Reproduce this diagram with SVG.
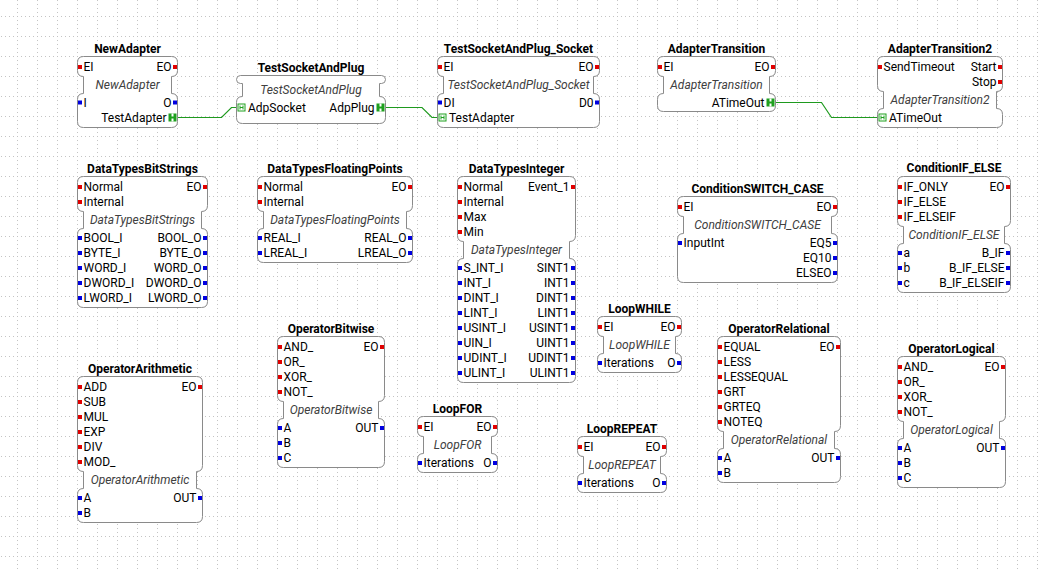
<svg xmlns="http://www.w3.org/2000/svg" xmlns:xlink="http://www.w3.org/1999/xlink" width="1041" height="569" viewBox="0 0 1041 569">
<style>
text{font-family:Roboto,"Liberation Sans",Arial,sans-serif;font-size:12px;fill:#000}
.t{font-weight:bold;text-anchor:middle;font-size:12px}
.n{font-style:italic;text-anchor:middle;fill:#404040}
.r{text-anchor:end}
.b{fill:#fff;stroke:#8a8a8a;stroke-width:1}
.e{fill:#e00000}
.d{fill:#0000e0}
.c{fill:none;stroke:#1e9a1e;stroke-width:1.2}
</style>
<defs>
<pattern id="grid" x="17" y="16" width="20" height="20" patternUnits="userSpaceOnUse">
<path d="M0 0.5H20" stroke="#c4c4c4" stroke-width="1" stroke-dasharray="1 3"/>
<path d="M0.5 0V20" stroke="#c4c4c4" stroke-width="1" stroke-dasharray="1 3"/>
</pattern>
<g id="plug"><rect x="0" y="0" width="8" height="8" fill="#1ea01e"/><rect x="3" y="0" width="2" height="3" fill="#fff"/><rect x="3" y="5" width="2" height="3" fill="#fff"/></g>
<g id="sock"><rect x="0.5" y="0.5" width="7" height="7" fill="#fff" stroke="#1ea01e"/><path d="M2.5 2V6M5.5 2V6M2.5 4H5.5" stroke="#1ea01e" stroke-width="1"/></g>
</defs>
<rect width="1041" height="569" fill="#fff"/>
<rect width="1041" height="569" fill="url(#grid)"/>

<g id="connections">
<path class="c" d="M177,117.5 H221.5 L231.5,107.5 H238"/>
<path class="c" d="M385,107.5 H422 L432,117.5 H439"/>
<path class="c" d="M775,102.5 H821.5 L831.5,117.5 H879"/>
</g>

<g id="NewAdapter">
<path class="b" d="M83.5,56.5 H171.5 Q177.5,56.5 177.5,62.5 V70.5 Q177.5,76.5 171.5,76.5 V93.5 Q177.5,93.5 177.5,99.5 V121.5 Q177.5,127.5 171.5,127.5 H83.5 Q77.5,127.5 77.5,121.5 V99.5 Q77.5,93.5 83.5,93.5 V76.5 Q77.5,76.5 77.5,70.5 V62.5 Q77.5,56.5 83.5,56.5 Z"/>
<text class="t" x="127.5" y="53">NewAdapter</text>
<rect class="e" x="78" y="65" width="4" height="4"/><text x="83.5" y="71">EI</text>
<rect class="e" x="173" y="65" width="4" height="4"/><text class="r" x="171.5" y="71">EO</text>
<text class="n" x="127.5" y="89">NewAdapter</text>
<rect class="d" x="78" y="100.5" width="4" height="4"/><text x="83.5" y="106.5">I</text>
<rect class="d" x="173" y="100.5" width="4" height="4"/><text class="r" x="171.5" y="106.5">O</text>
<use xlink:href="#plug" x="168.5" y="113.5"/><text class="r" x="166.5" y="121.5">TestAdapter</text>
</g>

<g id="TestSocketAndPlug">
<path class="b" d="M240.5,75.5 H381.5 Q385.5,75.5 385.5,79.5 Q385.5,83.5 381.5,83.5 H379.5 V96.5 Q385.5,96.5 385.5,102.5 V117.5 Q385.5,123.5 379.5,123.5 H242.5 Q236.5,123.5 236.5,117.5 V102.5 Q236.5,96.5 242.5,96.5 V83.5 H240.5 Q236.5,83.5 236.5,79.5 Q236.5,75.5 240.5,75.5 Z"/>
<text class="t" x="311" y="72">TestSocketAndPlug</text>
<text class="n" x="311" y="94">TestSocketAndPlug</text>
<use xlink:href="#sock" x="237.5" y="103.5"/><text x="248" y="111.5">AdpSocket</text>
<use xlink:href="#plug" x="376.5" y="103.5"/><text class="r" x="374.5" y="111.5">AdpPlug</text>
</g>

<g id="TestSocketAndPlug_Socket">
<path class="b" d="M443.5,56.5 H593.5 Q599.5,56.5 599.5,62.5 V70.5 Q599.5,76.5 593.5,76.5 V93.5 Q599.5,93.5 599.5,99.5 V121.5 Q599.5,127.5 593.5,127.5 H443.5 Q437.5,127.5 437.5,121.5 V99.5 Q437.5,93.5 443.5,93.5 V76.5 Q437.5,76.5 437.5,70.5 V62.5 Q437.5,56.5 443.5,56.5 Z"/>
<text class="t" x="518.5" y="53">TestSocketAndPlug_Socket</text>
<rect class="e" x="438" y="65" width="4" height="4"/><text x="443.5" y="71">EI</text>
<rect class="e" x="595" y="65" width="4" height="4"/><text class="r" x="593.5" y="71">EO</text>
<text class="n" x="518.5" y="89">TestSocketAndPlug_Socket</text>
<rect class="d" x="438" y="100.5" width="4" height="4"/><text x="443.5" y="106.5">DI</text>
<rect class="d" x="595" y="100.5" width="4" height="4"/><text class="r" x="593.5" y="106.5">D0</text>
<use xlink:href="#sock" x="438.5" y="113.5"/><text x="449" y="121.5">TestAdapter</text>
</g>

<g id="AdapterTransition">
<path class="b" d="M663.5,56.5 H769.5 Q775.5,56.5 775.5,62.5 V70.5 Q775.5,76.5 769.5,76.5 V93.5 Q775.5,93.5 775.5,99.5 V105.5 Q775.5,111.5 769.5,111.5 H663.5 Q657.5,111.5 657.5,105.5 V99.5 Q657.5,93.5 663.5,93.5 V76.5 Q657.5,76.5 657.5,70.5 V62.5 Q657.5,56.5 663.5,56.5 Z"/>
<text class="t" x="716.5" y="53">AdapterTransition</text>
<rect class="e" x="658" y="65" width="4" height="4"/><text x="663.5" y="71">EI</text>
<rect class="e" x="771" y="65" width="4" height="4"/><text class="r" x="769.5" y="71">EO</text>
<text class="n" x="716.5" y="89">AdapterTransition</text>
<use xlink:href="#plug" x="766.5" y="98.5"/><text class="r" x="764.5" y="106.5">ATimeOut</text>
</g>

<g id="AdapterTransition2">
<path class="b" d="M883.5,56.5 H996.5 Q1002.5,56.5 1002.5,62.5 V85.5 Q1002.5,91.5 996.5,91.5 V108.5 Q1002.5,108.5 1002.5,114.5 V121.5 Q1002.5,127.5 996.5,127.5 H883.5 Q877.5,127.5 877.5,121.5 V114.5 Q877.5,108.5 883.5,108.5 V91.5 Q877.5,91.5 877.5,85.5 V62.5 Q877.5,56.5 883.5,56.5 Z"/>
<text class="t" x="940" y="53">AdapterTransition2</text>
<rect class="e" x="878" y="65" width="4" height="4"/><text x="883.5" y="71">SendTimeout</text>
<rect class="e" x="998" y="65" width="4" height="4"/><text class="r" x="996.5" y="71">Start</text>
<rect class="e" x="998" y="80" width="4" height="4"/><text class="r" x="996.5" y="86">Stop</text>
<text class="n" x="940" y="104">AdapterTransition2</text>
<use xlink:href="#sock" x="878.5" y="113.5"/><text x="889" y="121.5">ATimeOut</text>
</g>

<g id="DataTypesBitStrings">
<path class="b" d="M83.5,176.5 H201.5 Q207.5,176.5 207.5,182.5 V205.5 Q207.5,211.5 201.5,211.5 V228.5 Q207.5,228.5 207.5,234.5 V301.5 Q207.5,307.5 201.5,307.5 H83.5 Q77.5,307.5 77.5,301.5 V234.5 Q77.5,228.5 83.5,228.5 V211.5 Q77.5,211.5 77.5,205.5 V182.5 Q77.5,176.5 83.5,176.5 Z"/>
<text class="t" x="142.5" y="173">DataTypesBitStrings</text>
<rect class="e" x="78" y="185" width="4" height="4"/><text x="83.5" y="191">Normal</text>
<rect class="e" x="78" y="200" width="4" height="4"/><text x="83.5" y="206">Internal</text>
<rect class="e" x="203" y="185" width="4" height="4"/><text class="r" x="201.5" y="191">EO</text>
<text class="n" x="142.5" y="224">DataTypesBitStrings</text>
<rect class="d" x="78" y="236" width="4" height="4"/><text x="83.5" y="242">BOOL_I</text>
<rect class="d" x="78" y="251" width="4" height="4"/><text x="83.5" y="257">BYTE_I</text>
<rect class="d" x="78" y="266" width="4" height="4"/><text x="83.5" y="272">WORD_I</text>
<rect class="d" x="78" y="281" width="4" height="4"/><text x="83.5" y="287">DWORD_I</text>
<rect class="d" x="78" y="296" width="4" height="4"/><text x="83.5" y="302">LWORD_I</text>
<rect class="d" x="203" y="236" width="4" height="4"/><text class="r" x="201.5" y="242">BOOL_O</text>
<rect class="d" x="203" y="251" width="4" height="4"/><text class="r" x="201.5" y="257">BYTE_O</text>
<rect class="d" x="203" y="266" width="4" height="4"/><text class="r" x="201.5" y="272">WORD_O</text>
<rect class="d" x="203" y="281" width="4" height="4"/><text class="r" x="201.5" y="287">DWORD_O</text>
<rect class="d" x="203" y="296" width="4" height="4"/><text class="r" x="201.5" y="302">LWORD_O</text>
</g>

<g id="DataTypesFloatingPoints">
<path class="b" d="M263.5,176.5 H406.5 Q412.5,176.5 412.5,182.5 V205.5 Q412.5,211.5 406.5,211.5 V228.5 Q412.5,228.5 412.5,234.5 V256.5 Q412.5,262.5 406.5,262.5 H263.5 Q257.5,262.5 257.5,256.5 V234.5 Q257.5,228.5 263.5,228.5 V211.5 Q257.5,211.5 257.5,205.5 V182.5 Q257.5,176.5 263.5,176.5 Z"/>
<text class="t" x="335" y="173">DataTypesFloatingPoints</text>
<rect class="e" x="258" y="185" width="4" height="4"/><text x="263.5" y="191">Normal</text>
<rect class="e" x="258" y="200" width="4" height="4"/><text x="263.5" y="206">Internal</text>
<rect class="e" x="408" y="185" width="4" height="4"/><text class="r" x="406.5" y="191">EO</text>
<text class="n" x="335" y="224">DataTypesFloatingPoints</text>
<rect class="d" x="258" y="236" width="4" height="4"/><text x="263.5" y="242">REAL_I</text>
<rect class="d" x="258" y="251" width="4" height="4"/><text x="263.5" y="257">LREAL_I</text>
<rect class="d" x="408" y="236" width="4" height="4"/><text class="r" x="406.5" y="242">REAL_O</text>
<rect class="d" x="408" y="251" width="4" height="4"/><text class="r" x="406.5" y="257">LREAL_O</text>
</g>

<g id="DataTypesInteger">
<path class="b" d="M463.5,176.5 H569.5 Q575.5,176.5 575.5,182.5 V235.5 Q575.5,241.5 569.5,241.5 V258.5 Q575.5,258.5 575.5,264.5 V376.5 Q575.5,382.5 569.5,382.5 H463.5 Q457.5,382.5 457.5,376.5 V264.5 Q457.5,258.5 463.5,258.5 V241.5 Q457.5,241.5 457.5,235.5 V182.5 Q457.5,176.5 463.5,176.5 Z"/>
<text class="t" x="516.5" y="173">DataTypesInteger</text>
<rect class="e" x="458" y="185" width="4" height="4"/><text x="463.5" y="191">Normal</text>
<rect class="e" x="458" y="200" width="4" height="4"/><text x="463.5" y="206">Internal</text>
<rect class="e" x="458" y="215" width="4" height="4"/><text x="463.5" y="221">Max</text>
<rect class="e" x="458" y="230" width="4" height="4"/><text x="463.5" y="236">Min</text>
<rect class="e" x="571" y="185" width="4" height="4"/><text class="r" x="569.5" y="191">Event_1</text>
<text class="n" x="516.5" y="254">DataTypesInteger</text>
<rect class="d" x="458" y="266" width="4" height="4"/><text x="463.5" y="272">S_INT_I</text>
<rect class="d" x="458" y="281" width="4" height="4"/><text x="463.5" y="287">INT_I</text>
<rect class="d" x="458" y="296" width="4" height="4"/><text x="463.5" y="302">DINT_I</text>
<rect class="d" x="458" y="311" width="4" height="4"/><text x="463.5" y="317">LINT_I</text>
<rect class="d" x="458" y="326" width="4" height="4"/><text x="463.5" y="332">USINT_I</text>
<rect class="d" x="458" y="341" width="4" height="4"/><text x="463.5" y="347">UIN_I</text>
<rect class="d" x="458" y="356" width="4" height="4"/><text x="463.5" y="362">UDINT_I</text>
<rect class="d" x="458" y="371" width="4" height="4"/><text x="463.5" y="377">ULINT_I</text>
<rect class="d" x="571" y="266" width="4" height="4"/><text class="r" x="569.5" y="272">SINT1</text>
<rect class="d" x="571" y="281" width="4" height="4"/><text class="r" x="569.5" y="287">INT1</text>
<rect class="d" x="571" y="296" width="4" height="4"/><text class="r" x="569.5" y="302">DINT1</text>
<rect class="d" x="571" y="311" width="4" height="4"/><text class="r" x="569.5" y="317">LINT1</text>
<rect class="d" x="571" y="326" width="4" height="4"/><text class="r" x="569.5" y="332">USINT1</text>
<rect class="d" x="571" y="341" width="4" height="4"/><text class="r" x="569.5" y="347">UINT1</text>
<rect class="d" x="571" y="356" width="4" height="4"/><text class="r" x="569.5" y="362">UDINT1</text>
<rect class="d" x="571" y="371" width="4" height="4"/><text class="r" x="569.5" y="377">ULINT1</text>
</g>

<g id="ConditionSWITCH_CASE">
<path class="b" d="M683.5,196.5 H831.5 Q837.5,196.5 837.5,202.5 V210.5 Q837.5,216.5 831.5,216.5 V233.5 Q837.5,233.5 837.5,239.5 V276.5 Q837.5,282.5 831.5,282.5 H683.5 Q677.5,282.5 677.5,276.5 V239.5 Q677.5,233.5 683.5,233.5 V216.5 Q677.5,216.5 677.5,210.5 V202.5 Q677.5,196.5 683.5,196.5 Z"/>
<text class="t" x="757.5" y="193">ConditionSWITCH_CASE</text>
<rect class="e" x="678" y="205" width="4" height="4"/><text x="683.5" y="211">EI</text>
<rect class="e" x="833" y="205" width="4" height="4"/><text class="r" x="831.5" y="211">EO</text>
<text class="n" x="757.5" y="229">ConditionSWITCH_CASE</text>
<rect class="d" x="678" y="241" width="4" height="4"/><text x="683.5" y="247">InputInt</text>
<rect class="d" x="833" y="241" width="4" height="4"/><text class="r" x="831.5" y="247">EQ5</text>
<rect class="d" x="833" y="256" width="4" height="4"/><text class="r" x="831.5" y="262">EQ10</text>
<rect class="d" x="833" y="271" width="4" height="4"/><text class="r" x="831.5" y="277">ELSEO</text>
</g>

<g id="ConditionIF_ELSE">
<path class="b" d="M903.5,176.5 H1004.5 Q1010.5,176.5 1010.5,182.5 V220.5 Q1010.5,226.5 1004.5,226.5 V243.5 Q1010.5,243.5 1010.5,249.5 V286.5 Q1010.5,292.5 1004.5,292.5 H903.5 Q897.5,292.5 897.5,286.5 V249.5 Q897.5,243.5 903.5,243.5 V226.5 Q897.5,226.5 897.5,220.5 V182.5 Q897.5,176.5 903.5,176.5 Z"/>
<text class="t" x="954" y="172">ConditionIF_ELSE</text>
<rect class="e" x="898" y="185" width="4" height="4"/><text x="903.5" y="191">IF_ONLY</text>
<rect class="e" x="898" y="200" width="4" height="4"/><text x="903.5" y="206">IF_ELSE</text>
<rect class="e" x="898" y="215" width="4" height="4"/><text x="903.5" y="221">IF_ELSEIF</text>
<rect class="e" x="1006" y="185" width="4" height="4"/><text class="r" x="1004.5" y="191">EO</text>
<text class="n" x="954" y="239">ConditionIF_ELSE</text>
<rect class="d" x="898" y="251" width="4" height="4"/><text x="903.5" y="257">a</text>
<rect class="d" x="898" y="266" width="4" height="4"/><text x="903.5" y="272">b</text>
<rect class="d" x="898" y="281" width="4" height="4"/><text x="903.5" y="287">c</text>
<rect class="d" x="1006" y="251" width="4" height="4"/><text class="r" x="1004.5" y="257">B_IF</text>
<rect class="d" x="1006" y="266" width="4" height="4"/><text class="r" x="1004.5" y="272">B_IF_ELSE</text>
<rect class="d" x="1006" y="281" width="4" height="4"/><text class="r" x="1004.5" y="287">B_IF_ELSEIF</text>
</g>

<g id="OperatorArithmetic">
<path class="b" d="M83.5,376.5 H196.5 Q202.5,376.5 202.5,382.5 V465.5 Q202.5,471.5 196.5,471.5 V488.5 Q202.5,488.5 202.5,494.5 V516.5 Q202.5,522.5 196.5,522.5 H83.5 Q77.5,522.5 77.5,516.5 V494.5 Q77.5,488.5 83.5,488.5 V471.5 Q77.5,471.5 77.5,465.5 V382.5 Q77.5,376.5 83.5,376.5 Z"/>
<text class="t" x="140" y="373">OperatorArithmetic</text>
<rect class="e" x="78" y="385" width="4" height="4"/><text x="83.5" y="391">ADD</text>
<rect class="e" x="78" y="400" width="4" height="4"/><text x="83.5" y="406">SUB</text>
<rect class="e" x="78" y="415" width="4" height="4"/><text x="83.5" y="421">MUL</text>
<rect class="e" x="78" y="430" width="4" height="4"/><text x="83.5" y="436">EXP</text>
<rect class="e" x="78" y="445" width="4" height="4"/><text x="83.5" y="451">DIV</text>
<rect class="e" x="78" y="460" width="4" height="4"/><text x="83.5" y="466">MOD_</text>
<rect class="e" x="198" y="385" width="4" height="4"/><text class="r" x="196.5" y="391">EO</text>
<text class="n" x="140" y="484">OperatorArithmetic</text>
<rect class="d" x="78" y="496" width="4" height="4"/><text x="83.5" y="502">A</text>
<rect class="d" x="78" y="511" width="4" height="4"/><text x="83.5" y="517">B</text>
<rect class="d" x="198" y="496" width="4" height="4"/><text class="r" x="196.5" y="502">OUT</text>
</g>

<g id="OperatorBitwise">
<path class="b" d="M283.5,336.5 H378.5 Q384.5,336.5 384.5,342.5 V395.5 Q384.5,401.5 378.5,401.5 V418.5 Q384.5,418.5 384.5,424.5 V461.5 Q384.5,467.5 378.5,467.5 H283.5 Q277.5,467.5 277.5,461.5 V424.5 Q277.5,418.5 283.5,418.5 V401.5 Q277.5,401.5 277.5,395.5 V342.5 Q277.5,336.5 283.5,336.5 Z"/>
<text class="t" x="331" y="333">OperatorBitwise</text>
<rect class="e" x="278" y="345" width="4" height="4"/><text x="283.5" y="351">AND_</text>
<rect class="e" x="278" y="360" width="4" height="4"/><text x="283.5" y="366">OR_</text>
<rect class="e" x="278" y="375" width="4" height="4"/><text x="283.5" y="381">XOR_</text>
<rect class="e" x="278" y="390" width="4" height="4"/><text x="283.5" y="396">NOT_</text>
<rect class="e" x="380" y="345" width="4" height="4"/><text class="r" x="378.5" y="351">EO</text>
<text class="n" x="331" y="414">OperatorBitwise</text>
<rect class="d" x="278" y="426" width="4" height="4"/><text x="283.5" y="432">A</text>
<rect class="d" x="278" y="441" width="4" height="4"/><text x="283.5" y="447">B</text>
<rect class="d" x="278" y="456" width="4" height="4"/><text x="283.5" y="462">C</text>
<rect class="d" x="380" y="426" width="4" height="4"/><text class="r" x="378.5" y="432">OUT</text>
</g>

<g id="LoopWHILE">
<path class="b" d="M603.5,316.5 H675.5 Q681.5,316.5 681.5,322.5 V330.5 Q681.5,336.5 675.5,336.5 V353.5 Q681.5,353.5 681.5,359.5 V366.5 Q681.5,372.5 675.5,372.5 H603.5 Q597.5,372.5 597.5,366.5 V359.5 Q597.5,353.5 603.5,353.5 V336.5 Q597.5,336.5 597.5,330.5 V322.5 Q597.5,316.5 603.5,316.5 Z"/>
<text class="t" x="639.5" y="313">LoopWHILE</text>
<rect class="e" x="598" y="325" width="4" height="4"/><text x="603.5" y="331">EI</text>
<rect class="e" x="677" y="325" width="4" height="4"/><text class="r" x="675.5" y="331">EO</text>
<text class="n" x="639.5" y="349">LoopWHILE</text>
<rect class="d" x="598" y="361" width="4" height="4"/><text x="603.5" y="367">Iterations</text>
<rect class="d" x="677" y="361" width="4" height="4"/><text class="r" x="675.5" y="367">O</text>
</g>

<g id="LoopFOR">
<path class="b" d="M423.5,416.5 H491.5 Q497.5,416.5 497.5,422.5 V430.5 Q497.5,436.5 491.5,436.5 V453.5 Q497.5,453.5 497.5,459.5 V466.5 Q497.5,472.5 491.5,472.5 H423.5 Q417.5,472.5 417.5,466.5 V459.5 Q417.5,453.5 423.5,453.5 V436.5 Q417.5,436.5 417.5,430.5 V422.5 Q417.5,416.5 423.5,416.5 Z"/>
<text class="t" x="457.5" y="413">LoopFOR</text>
<rect class="e" x="418" y="425" width="4" height="4"/><text x="423.5" y="431">EI</text>
<rect class="e" x="493" y="425" width="4" height="4"/><text class="r" x="491.5" y="431">EO</text>
<text class="n" x="457.5" y="449">LoopFOR</text>
<rect class="d" x="418" y="461" width="4" height="4"/><text x="423.5" y="467">Iterations</text>
<rect class="d" x="493" y="461" width="4" height="4"/><text class="r" x="491.5" y="467">O</text>
</g>

<g id="LoopREPEAT">
<path class="b" d="M583.5,436.5 H660.5 Q666.5,436.5 666.5,442.5 V450.5 Q666.5,456.5 660.5,456.5 V473.5 Q666.5,473.5 666.5,479.5 V486.5 Q666.5,492.5 660.5,492.5 H583.5 Q577.5,492.5 577.5,486.5 V479.5 Q577.5,473.5 583.5,473.5 V456.5 Q577.5,456.5 577.5,450.5 V442.5 Q577.5,436.5 583.5,436.5 Z"/>
<text class="t" x="622" y="433">LoopREPEAT</text>
<rect class="e" x="578" y="445" width="4" height="4"/><text x="583.5" y="451">EI</text>
<rect class="e" x="662" y="445" width="4" height="4"/><text class="r" x="660.5" y="451">EO</text>
<text class="n" x="622" y="469">LoopREPEAT</text>
<rect class="d" x="578" y="481" width="4" height="4"/><text x="583.5" y="487">Iterations</text>
<rect class="d" x="662" y="481" width="4" height="4"/><text class="r" x="660.5" y="487">O</text>
</g>

<g id="OperatorRelational">
<path class="b" d="M723.5,336.5 H834.5 Q840.5,336.5 840.5,342.5 V425.5 Q840.5,431.5 834.5,431.5 V448.5 Q840.5,448.5 840.5,454.5 V476.5 Q840.5,482.5 834.5,482.5 H723.5 Q717.5,482.5 717.5,476.5 V454.5 Q717.5,448.5 723.5,448.5 V431.5 Q717.5,431.5 717.5,425.5 V342.5 Q717.5,336.5 723.5,336.5 Z"/>
<text class="t" x="779" y="333">OperatorRelational</text>
<rect class="e" x="718" y="345" width="4" height="4"/><text x="723.5" y="351">EQUAL</text>
<rect class="e" x="718" y="360" width="4" height="4"/><text x="723.5" y="366">LESS</text>
<rect class="e" x="718" y="375" width="4" height="4"/><text x="723.5" y="381">LESSEQUAL</text>
<rect class="e" x="718" y="390" width="4" height="4"/><text x="723.5" y="396">GRT</text>
<rect class="e" x="718" y="405" width="4" height="4"/><text x="723.5" y="411">GRTEQ</text>
<rect class="e" x="718" y="420" width="4" height="4"/><text x="723.5" y="426">NOTEQ</text>
<rect class="e" x="836" y="345" width="4" height="4"/><text class="r" x="834.5" y="351">EO</text>
<text class="n" x="779" y="444">OperatorRelational</text>
<rect class="d" x="718" y="456" width="4" height="4"/><text x="723.5" y="462">A</text>
<rect class="d" x="718" y="471" width="4" height="4"/><text x="723.5" y="477">B</text>
<rect class="d" x="836" y="456" width="4" height="4"/><text class="r" x="834.5" y="462">OUT</text>
</g>

<g id="OperatorLogical">
<path class="b" d="M903.5,356.5 H999.5 Q1005.5,356.5 1005.5,362.5 V415.5 Q1005.5,421.5 999.5,421.5 V438.5 Q1005.5,438.5 1005.5,444.5 V481.5 Q1005.5,487.5 999.5,487.5 H903.5 Q897.5,487.5 897.5,481.5 V444.5 Q897.5,438.5 903.5,438.5 V421.5 Q897.5,421.5 897.5,415.5 V362.5 Q897.5,356.5 903.5,356.5 Z"/>
<text class="t" x="951.5" y="353">OperatorLogical</text>
<rect class="e" x="898" y="365" width="4" height="4"/><text x="903.5" y="371">AND_</text>
<rect class="e" x="898" y="380" width="4" height="4"/><text x="903.5" y="386">OR_</text>
<rect class="e" x="898" y="395" width="4" height="4"/><text x="903.5" y="401">XOR_</text>
<rect class="e" x="898" y="410" width="4" height="4"/><text x="903.5" y="416">NOT_</text>
<rect class="e" x="1001" y="365" width="4" height="4"/><text class="r" x="999.5" y="371">EO</text>
<text class="n" x="951.5" y="434">OperatorLogical</text>
<rect class="d" x="898" y="446" width="4" height="4"/><text x="903.5" y="452">A</text>
<rect class="d" x="898" y="461" width="4" height="4"/><text x="903.5" y="467">B</text>
<rect class="d" x="898" y="476" width="4" height="4"/><text x="903.5" y="482">C</text>
<rect class="d" x="1001" y="446" width="4" height="4"/><text class="r" x="999.5" y="452">OUT</text>
</g>
</svg>
